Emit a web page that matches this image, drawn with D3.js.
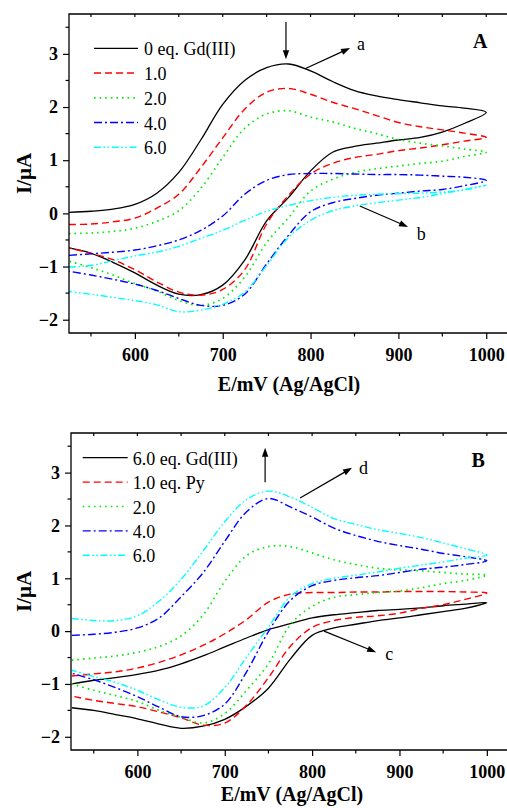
<!DOCTYPE html>
<html><head><meta charset="utf-8">
<script src="https://cdn.jsdelivr.net/npm/d3@7"></script>
<style>body{margin:0;background:#fff}svg{display:block}</style>
</head><body>
<script>
// ---------- DATA ----------
const E = [525,550,575,600,625,650,675,700,725,750,775,800,825,850,875,900,925,950,975,1000];
const xMajor = [600,700,800,900,1000];
const xMinor = [550,650,750,850,950];
const yMajor = [-2,-1,0,1,2,3];
const yMinor = [-1.5,-0.5,0.5,1.5,2.5,3.5];

const labelsA = ["0 eq. Gd(III)","1.0","2.0","4.0","6.0"];
const labelsB = ["6.0 eq. Gd(III)","1.0 eq. Py","2.0","4.0","6.0"];

// Panel A: forward (upper) and reverse (lower) branch currents, aligned to E
const A0f = [0.02,0.04,0.08,0.17,0.38,0.77,1.38,2.05,2.50,2.74,2.81,2.68,2.48,2.31,2.21,2.14,2.08,2.02,1.98,1.90];
const A0r = [-0.65,-0.75,-0.92,-1.12,-1.35,-1.52,-1.53,-1.35,-0.88,-0.14,0.30,0.80,1.15,1.26,1.32,1.38,1.43,1.53,1.69,1.90];
const A1f = [-0.21,-0.20,-0.16,-0.09,0.10,0.36,0.86,1.42,1.96,2.28,2.35,2.24,2.09,1.97,1.84,1.71,1.63,1.57,1.51,1.43];
const A1r = [-0.65,-0.75,-0.87,-1.06,-1.29,-1.48,-1.54,-1.43,-1.06,-0.20,0.34,0.74,0.94,1.05,1.11,1.18,1.23,1.29,1.36,1.43];
const A2f = [-0.38,-0.37,-0.34,-0.28,-0.15,0.05,0.47,1.05,1.60,1.87,1.93,1.81,1.72,1.60,1.50,1.39,1.32,1.27,1.21,1.15];
const A2r = [-0.90,-1.02,-1.16,-1.32,-1.46,-1.64,-1.73,-1.60,-1.20,-0.55,-0.08,0.42,0.64,0.77,0.84,0.89,0.94,0.98,1.07,1.15];
const A4f = [-0.79,-0.76,-0.73,-0.69,-0.61,-0.50,-0.32,-0.05,0.36,0.62,0.73,0.75,0.75,0.74,0.73,0.73,0.72,0.70,0.68,0.62];
const A4r = [-1.09,-1.16,-1.24,-1.33,-1.45,-1.60,-1.73,-1.73,-1.52,-0.95,-0.41,0.03,0.20,0.28,0.34,0.38,0.42,0.45,0.52,0.62];
const A6f = [-1.01,-0.98,-0.89,-0.80,-0.73,-0.62,-0.47,-0.32,-0.13,0.04,0.15,0.24,0.30,0.34,0.36,0.37,0.38,0.40,0.44,0.53];
const A6r = [-1.47,-1.52,-1.58,-1.64,-1.72,-1.85,-1.82,-1.71,-1.48,-0.98,-0.45,-0.13,0.05,0.14,0.20,0.25,0.30,0.37,0.45,0.53];

// Panel B
const B0f = [-1.00,-0.93,-0.88,-0.82,-0.74,-0.62,-0.47,-0.30,-0.13,0.03,0.14,0.25,0.31,0.35,0.39,0.41,0.44,0.48,0.51,0.54];
const B0r = [-1.45,-1.50,-1.58,-1.66,-1.76,-1.84,-1.80,-1.67,-1.42,-1.08,-0.53,-0.08,0.06,0.13,0.20,0.25,0.31,0.37,0.43,0.54];
const B1f = [-0.85,-0.81,-0.77,-0.70,-0.59,-0.45,-0.27,-0.05,0.22,0.55,0.70,0.73,0.73,0.74,0.74,0.75,0.75,0.75,0.74,0.72];
const B1r = [-1.23,-1.31,-1.37,-1.43,-1.53,-1.64,-1.78,-1.74,-1.40,-0.88,-0.29,0.07,0.20,0.26,0.29,0.34,0.43,0.50,0.60,0.72];
const B2f = [-0.55,-0.51,-0.47,-0.40,-0.29,-0.09,0.30,0.94,1.43,1.60,1.60,1.48,1.35,1.26,1.19,1.16,1.14,1.11,1.08,1.06];
const B2r = [-1.00,-1.12,-1.22,-1.33,-1.50,-1.63,-1.74,-1.56,-1.12,-0.62,0.12,0.47,0.64,0.69,0.73,0.76,0.82,0.90,0.96,1.06];
const B4f = [-0.08,-0.06,-0.02,0.06,0.25,0.65,1.10,1.70,2.26,2.51,2.35,2.16,1.95,1.81,1.70,1.62,1.55,1.47,1.41,1.33];
const B4r = [-0.80,-0.92,-1.07,-1.24,-1.44,-1.62,-1.60,-1.38,-0.77,-0.01,0.58,0.86,0.96,1.01,1.05,1.11,1.17,1.21,1.26,1.33];
const B6f = [0.24,0.20,0.20,0.29,0.57,0.98,1.51,2.07,2.49,2.65,2.54,2.34,2.13,2.02,1.92,1.85,1.77,1.67,1.56,1.44];
const B6r = [-0.74,-0.86,-0.97,-1.12,-1.30,-1.44,-1.42,-1.07,-0.49,0.08,0.65,0.90,1.00,1.06,1.12,1.19,1.25,1.31,1.38,1.44];

const seriesStyle = [
  {color:"#000000", dash:null, w:1.3},
  {color:"#ff0000", dash:"7,4", w:1.4},
  {color:"#00ee00", dash:"1.6,4", w:1.7},
  {color:"#0000ff", dash:"8,3,2,3", w:1.4},
  {color:"#00ffff", dash:"7,2.5,1.6,2.5,1.6,2.5", w:1.4}
];

const panels = [
  {name:"A", left:69, top:14, bottom:333, xDomain:[525,1030], pxPerMV:0.8784,
   fwd:[A0f,A1f,A2f,A4f,A6f], rev:[A0r,A1r,A2r,A4r,A6r], labels:labelsA,
   legend:{x0:94, x1:138, tx:144, y0:48.3, dy:24.75},
   arrows:[[772,3.6,772,2.9],[793.7,2.72,845,3.11],[856,0.14,911,-0.255]],
   notes:[["a",853,3.07],["b",921,-0.5]],
   letter:{x:473, y:48}, xTitleX:289, xTitleY:391},
  {name:"B", left:71, top:433, bottom:750, xDomain:[524,1030], pxPerMV:0.8736,
   fwd:[B0f,B1f,B2f,B4f,B6f], rev:[B0r,B1r,B2r,B4r,B6r], labels:labelsB,
   legend:{x0:82.7, x1:127.7, tx:132.7, y0:457.7, dy:24.4},
   arrows:[[746.2,2.82,746.2,3.47],[786.2,2.52,845.7,3.09],[813.7,0.0,873.3,-0.4]],
   notes:[["d",853.7,2.97],["c",883.6,-0.55]],
   letter:{x:471.5, y:467}, xTitleX:292, xTitleY:801}
];

// ---------- DRAW ----------
const W = 507, H = 808;
const svg = d3.select("body").append("svg").attr("width", W).attr("height", H)
  .style("font-family", "'Liberation Serif','Times New Roman',serif");

function arrow(g, x1, y1, x2, y2) {
  const dx = x2 - x1, dy = y2 - y1, L = Math.hypot(dx, dy), ux = dx / L, uy = dy / L;
  const hl = 9, hw = 3.2;
  const bx = x2 - ux * hl, by = y2 - uy * hl;
  g.append("line").attr("x1", x1).attr("y1", y1).attr("x2", bx + ux).attr("y2", by + uy)
    .attr("stroke", "#000").attr("stroke-width", 1.2);
  g.append("path").attr("d", `M${x2},${y2}L${bx - uy * hw},${by + ux * hw}L${bx + uy * hw},${by - ux * hw}Z`)
    .attr("fill", "#000");
}

panels.forEach((p, pi) => {
  const right = p.left + (p.xDomain[1] - p.xDomain[0]) * p.pxPerMV;
  const x = d3.scaleLinear().domain(p.xDomain).range([p.left, right]);
  const y = d3.scaleLinear().domain([-2.25, 3.75]).range([p.bottom, p.top]);
  const g = svg.append("g");

  const clipId = "clip" + pi;
  svg.append("clipPath").attr("id", clipId).append("rect")
    .attr("x", p.left).attr("y", p.top).attr("width", right - p.left).attr("height", p.bottom - p.top);

  const line = d3.line().x(d => x(d[0])).y(d => y(d[1])).curve(d3.curveCatmullRom.alpha(0.5));
  const curves = g.append("g").attr("clip-path", `url(#${clipId})`);
  p.fwd.forEach((f, si) => {
    const r = p.rev[si];
    const pts = E.map((e, k) => [e, f[k]]);
    for (let k = E.length - 2; k >= 0; k--) pts.push([E[k], r[k]]);
    const st = seriesStyle[si];
    curves.append("path").attr("d", line(pts)).attr("fill", "none")
      .attr("stroke", st.color).attr("stroke-width", st.w)
      .attr("stroke-dasharray", st.dash).attr("stroke-linejoin", "round");
  });

  // frame
  const frame = g.append("g").attr("stroke", "#000").attr("stroke-width", 1.3).attr("fill", "none");
  frame.append("path").attr("d", `M${p.left},${p.bottom}V${p.top}H${right}V${p.bottom}Z`);

  // bottom axis
  const xa = g.append("g").attr("transform", `translate(0,${p.bottom})`)
    .call(d3.axisBottom(x).tickValues(xMajor).tickSize(6).tickSizeOuter(0).tickPadding(9).tickFormat(d3.format("d")));
  xa.select(".domain").remove();
  xa.selectAll("line").attr("stroke-width", 1.2);
  xa.selectAll("text").attr("font-family", "'Liberation Serif',serif").attr("font-size", 18).attr("font-weight", "bold").attr("fill", "#000");
  g.append("g").selectAll("line").data(xMinor).join("line")
    .attr("x1", d => x(d)).attr("x2", d => x(d)).attr("y1", p.bottom).attr("y2", p.bottom + 3.5)
    .attr("stroke", "#000").attr("stroke-width", 1.2);
  // top inward ticks
  g.append("g").selectAll("line").data(xMajor.concat(xMinor)).join("line")
    .attr("x1", d => x(d)).attr("x2", d => x(d)).attr("y1", p.top).attr("y2", p.top + 3)
    .attr("stroke", "#000").attr("stroke-width", 1.2);

  // left axis
  const ya = g.append("g").attr("transform", `translate(${p.left},0)`)
    .call(d3.axisLeft(y).tickValues(yMajor).tickSize(6).tickSizeOuter(0).tickPadding(5).tickFormat(d3.format("d")));
  ya.select(".domain").remove();
  ya.selectAll("line").attr("stroke-width", 1.2);
  ya.selectAll("text").attr("font-family", "'Liberation Serif',serif").attr("font-size", 18).attr("font-weight", "bold").attr("fill", "#000");
  g.append("g").selectAll("line").data(yMinor).join("line")
    .attr("x1", p.left - 3.5).attr("x2", p.left).attr("y1", d => y(d)).attr("y2", d => y(d))
    .attr("stroke", "#000").attr("stroke-width", 1.2);

  // axis titles
  g.append("text").attr("x", p.xTitleX).attr("y", p.xTitleY).attr("text-anchor", "middle")
    .attr("font-size", 20).attr("font-weight", "bold").text("E/mV (Ag/AgCl)");
  g.append("text").attr("transform", `translate(31,${(p.top + p.bottom) / 2}) rotate(-90)`)
    .attr("text-anchor", "middle").attr("font-size", 21).attr("font-weight", "bold").text("I/μA");

  // legend
  const lg = g.append("g");
  p.labels.forEach((lab, si) => {
    const st = seriesStyle[si];
    const yy = p.legend.y0 + si * p.legend.dy;
    lg.append("line").attr("x1", p.legend.x0).attr("x2", p.legend.x1).attr("y1", yy).attr("y2", yy)
      .attr("stroke", st.color).attr("stroke-width", st.w).attr("stroke-dasharray", st.dash);
    lg.append("text").attr("x", p.legend.tx).attr("y", yy + 7).attr("font-size", 18).text(lab);
  });

  // annotations
  const ag = g.append("g");
  p.arrows.forEach(a => arrow(ag, x(a[0]), y(a[1]), x(a[2]), y(a[3])));
  p.notes.forEach(n => ag.append("text").attr("x", x(n[1])).attr("y", y(n[2])).attr("font-size", 18).text(n[0]));
  g.append("text").attr("x", p.letter.x).attr("y", p.letter.y).attr("font-size", 20).attr("font-weight", "bold").text(p.name);
});
</script>
</body></html>
